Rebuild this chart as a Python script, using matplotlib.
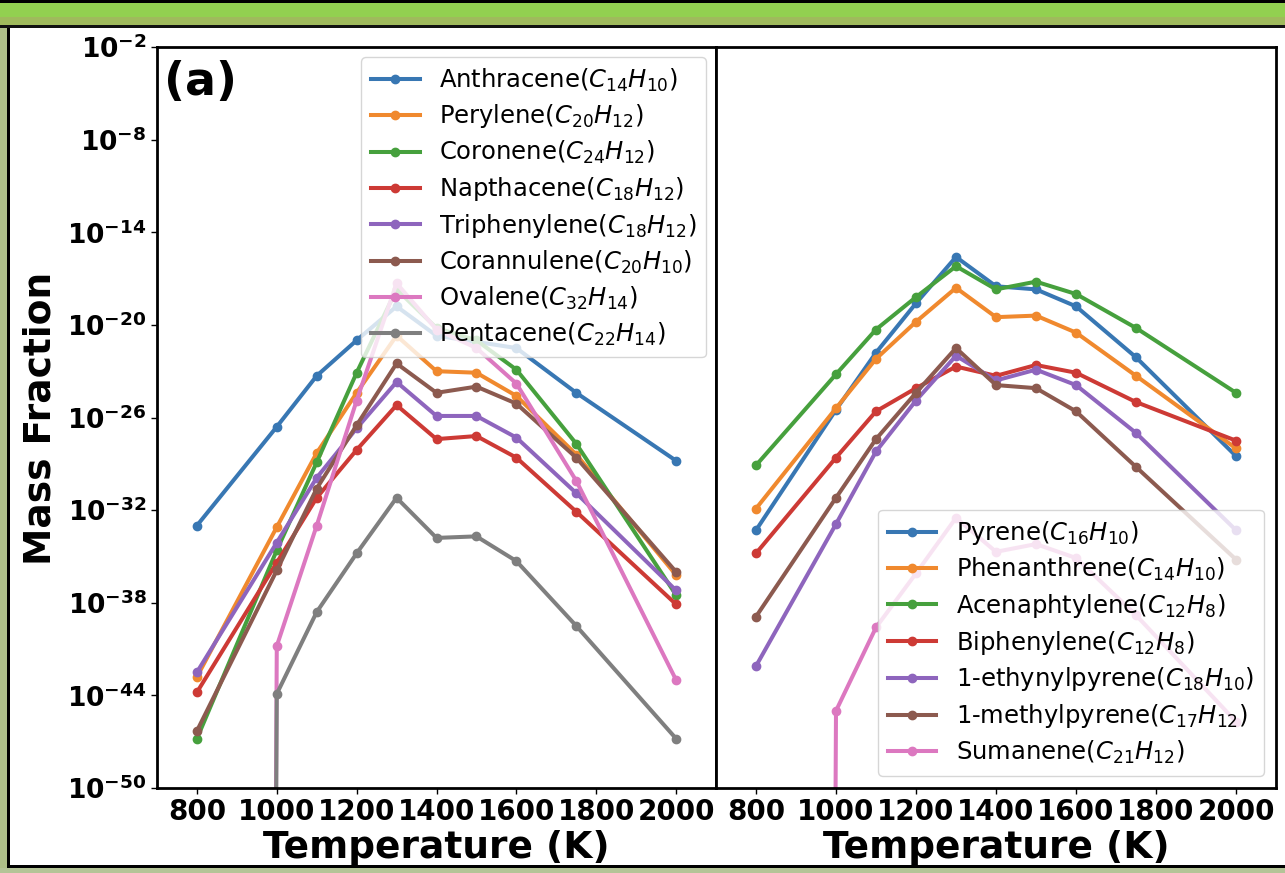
import numpy as np
import matplotlib
matplotlib.use("Agg")
import matplotlib.pyplot as plt
from matplotlib.patches import Rectangle
from matplotlib.ticker import FixedLocator, FuncFormatter, NullLocator

# temperatures (K)
temps = [800, 1000, 1100, 1200, 1300, 1400, 1500, 1600, 1750, 2000]

# log10(mass fraction); -inf means zero
NEG = -np.inf

# panel (a)
anthracene   = [-33.0, -26.6, -23.3, -21.0, -18.8, -20.7, -21.1, -21.5, -24.4, -28.8]
perylene     = [-42.8, -33.1, -28.3, -24.4, -20.7, -23.0, -23.1, -24.6, -28.4, -36.2]
coronene     = [-46.8, -34.6, -28.9, -23.1, -17.7, -20.2, -21.0, -22.9, -27.7, -37.5]
napthacene   = [-43.8, -35.4, -31.2, -28.1, -25.2, -27.4, -27.2, -28.6, -32.1, -38.1]
triphenylene = [-42.5, -34.1, -29.9, -26.7, -23.7, -25.9, -25.9, -27.3, -30.9, -37.2]
corannulene  = [-46.3, -35.9, -30.6, -26.5, -22.5, -24.4, -24.0, -25.1, -28.6, -36.0]
ovalene      = [NEG, -40.8, -33.0, -24.9, -17.3, -20.3, -21.5, -23.8, -30.1, -43.0]
pentacene    = [NEG, -43.9, -38.6, -34.8, -31.2, -33.8, -33.7, -35.3, -39.5, -46.8]

# panel (b)
pyrene        = [-33.3, -25.5, -21.8, -18.6, -15.6, -17.5, -17.7, -18.8, -22.1, -28.5]
phenanthrene  = [-31.9, -25.4, -22.2, -19.8, -17.6, -19.5, -19.4, -20.5, -23.3, -28.0]
acenaphtylene = [-29.1, -23.2, -20.3, -18.2, -16.2, -17.7, -17.2, -18.0, -20.2, -24.4]
biphenylene   = [-34.8, -28.6, -25.6, -24.1, -22.7, -23.3, -22.6, -23.1, -25.0, -27.5]
ethynylpyrene = [-42.1, -32.9, -28.2, -24.9, -22.0, -23.6, -22.9, -23.9, -27.0, -33.3]
methylpyrene  = [-38.9, -31.2, -27.4, -24.4, -21.5, -23.9, -24.1, -25.6, -29.2, -35.2]
sumanene      = [NEG, -45.0, -39.6, -36.1, -32.5, -34.7, -34.2, -35.1, -38.8, -45.7]

labels_a = [r'Anthracene($C_{14}H_{10}$)', r'Perylene($C_{20}H_{12}$)',
            r'Coronene($C_{24}H_{12}$)', r'Napthacene($C_{18}H_{12}$)',
            r'Triphenylene($C_{18}H_{12}$)', r'Corannulene($C_{20}H_{10}$)',
            r'Ovalene($C_{32}H_{14}$)', r'Pentacene($C_{22}H_{14}$)']
series_a = [anthracene, perylene, coronene, napthacene,
            triphenylene, corannulene, ovalene, pentacene]

labels_b = [r'Pyrene($C_{16}H_{10}$)', r'Phenanthrene($C_{14}H_{10}$)',
            r'Acenaphtylene($C_{12}H_8$)', r'Biphenylene($C_{12}H_8$)',
            r'1-ethynylpyrene($C_{18}H_{10}$)', r'1-methylpyrene($C_{17}H_{12}$)',
            r'Sumanene($C_{21}H_{12}$)']
series_b = [pyrene, phenanthrene, acenaphtylene, biphenylene,
            ethynylpyrene, methylpyrene, sumanene]

# tab10-like colours, as they appear in the screenshot
colors = ['#3877b3', '#f0892e', '#46a03d', '#cd3a35',
          '#8e65bd', '#8c5a4f', '#dc78c0', '#7f7f7f']

ytick_exps = [-2, -8, -14, -20, -26, -32, -38, -44, -50]
xticks = [800, 1000, 1200, 1400, 1600, 1800, 2000]

fig = plt.figure(figsize=(12.85, 8.73), dpi=100, facecolor='white')

# slide frame around the figure (green bands + black lines)
W, H = 1285.0, 873.0
def frect(x0, y0, w, h, color):
    fig.add_artist(Rectangle((x0 / W, 1 - (y0 + h) / H), w / W, h / H,
                             transform=fig.transFigure, facecolor=color,
                             edgecolor='none', zorder=-5))
frect(0, 0, W, 3, '#000000')
frect(0, 3, W, 14, '#92d050')
frect(0, 17, W, 8, '#9fba5c')
frect(0, 25, W, 3, '#111111')
frect(0, 28, 7, H - 28, '#aebf88')
frect(7, 28, 2.5, 840, '#000000')
frect(0, 868, W, 5, '#b4c497')
frect(7, 865, W, 3, '#000000')

ax1 = fig.add_axes([157 / W, 1 - 788 / H, 559 / W, 741 / H])
ax2 = fig.add_axes([716 / W, 1 - 788 / H, 560 / W, 741 / H], sharey=ax1)

def draw_panel(ax, series, labels):
    for i, (vals, lab) in enumerate(zip(series, labels)):
        y = 10.0 ** np.array(vals)
        ax.plot(temps, y, '-o', color=colors[i], lw=2.9, ms=6, label=lab)
    ax.set_yscale('log')
    ax.set_xlim(700, 2100)
    ax.set_ylim(1e-50, 1e-2)
    ax.set_xticks(xticks)
    ax.set_xticklabels([str(t) for t in xticks], fontsize=20, fontweight='bold')
    ax.set_xlabel('Temperature (K)', fontsize=27, fontweight='bold', labelpad=3)
    for sp in ax.spines.values():
        sp.set_linewidth(2)
        sp.set_color('black')
    ax.tick_params(axis='x', length=4, width=1, pad=3)

draw_panel(ax1, series_a, labels_a)
draw_panel(ax2, series_b, labels_b)

ax1.yaxis.set_major_locator(FixedLocator([10.0 ** e for e in ytick_exps]))
ax1.yaxis.set_minor_locator(NullLocator())
ax1.yaxis.set_major_formatter(
    FuncFormatter(lambda v, p: r'$\mathbf{10^{%d}}$' % int(round(np.log10(v)))))
ax1.tick_params(axis='y', labelsize=19, length=4, width=1)
ax2.tick_params(axis='y', left=False, labelleft=False)

fig.text(41 / W, 1 - 418 / H, 'Mass Fraction', rotation=90, fontsize=27,
         fontweight='bold', ha='center', va='center')

ax1.text(0.012, 0.982, '(a)', transform=ax1.transAxes, fontsize=33,
         fontweight='bold', ha='left', va='top')

ax1.legend(loc='upper right', fontsize=17.5, labelspacing=0.36, borderaxespad=0.4)
ax2.legend(loc='lower right', fontsize=17.5, labelspacing=0.36)

fig.savefig('out.png', dpi=100, facecolor='white')
